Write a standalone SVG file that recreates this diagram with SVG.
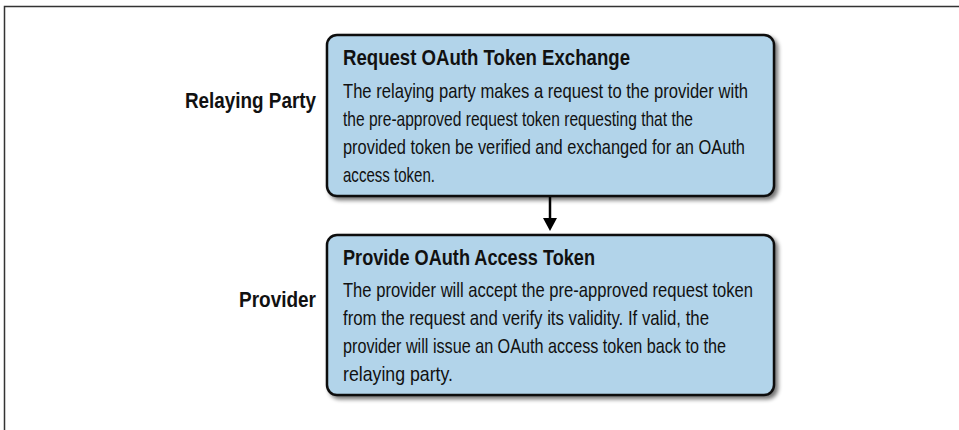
<svg xmlns="http://www.w3.org/2000/svg" width="959" height="430" viewBox="0 0 959 430">
  <defs>
    <filter id="shadow" x="-5%" y="-10%" width="115%" height="130%">
      <feGaussianBlur in="SourceAlpha" stdDeviation="2"/>
      <feOffset dx="3" dy="3" result="b"/>
      <feComponentTransfer><feFuncA type="linear" slope="0.55"/></feComponentTransfer>
      <feMerge><feMergeNode/><feMergeNode in="SourceGraphic"/></feMerge>
    </filter>
  </defs>
  <style>
    .frame { fill: none; stroke: #333; stroke-width: 1.5; }
    .box { fill: #b2d4ea; stroke: #111; stroke-width: 2.5; filter: url(#shadow); }
    .title { font-family: "Liberation Sans", Arial, sans-serif; font-weight: bold; font-size: 22px; fill: #111; }
    .body { font-family: "Liberation Sans", Arial, sans-serif; font-size: 21px; fill: #111; }
    .lane { font-family: "Liberation Sans", Arial, sans-serif; font-weight: bold; font-size: 22px; fill: #111; text-anchor: end; }
    .conn { stroke: #000; stroke-width: 2.5; fill: none; }
    .head { fill: #000; }
  </style>
  <rect width="959" height="430" fill="#fff"/>
  <path class="frame" d="M4.5,430 V6.5 H959"/>

  <g id="lane-relaying-party">
    <text class="lane" x="316" y="108" textLength="131" lengthAdjust="spacingAndGlyphs">Relaying Party</text>
  </g>
  <g id="lane-provider">
    <text class="lane" x="316" y="307" textLength="77" lengthAdjust="spacingAndGlyphs">Provider</text>
  </g>

  <g id="node-request">
    <rect class="box" x="327" y="35" width="447" height="161" rx="10" ry="10"/>
    <text class="title" x="343" y="65" textLength="287" lengthAdjust="spacingAndGlyphs">Request OAuth Token Exchange</text>
    <text class="body" x="343" y="98" textLength="405" lengthAdjust="spacingAndGlyphs">The relaying party makes a request to the provider with</text>
    <text class="body" x="343" y="126" textLength="350" lengthAdjust="spacingAndGlyphs">the pre-approved request token requesting that the</text>
    <text class="body" x="343" y="154" textLength="402" lengthAdjust="spacingAndGlyphs">provided token be verified and exchanged for an OAuth</text>
    <text class="body" x="343" y="182" textLength="92" lengthAdjust="spacingAndGlyphs">access token.</text>
  </g>

  <g id="node-provide">
    <rect class="box" x="327" y="235" width="447" height="160" rx="10" ry="10"/>
    <text class="title" x="343" y="265" textLength="252" lengthAdjust="spacingAndGlyphs">Provide OAuth Access Token</text>
    <text class="body" x="343" y="297" textLength="410" lengthAdjust="spacingAndGlyphs">The provider will accept the pre-approved request token</text>
    <text class="body" x="343" y="325" textLength="366" lengthAdjust="spacingAndGlyphs">from the request and verify its validity. If valid, the</text>
    <text class="body" x="343" y="353" textLength="383" lengthAdjust="spacingAndGlyphs">provider will issue an OAuth access token back to the</text>
    <text class="body" x="343" y="381" textLength="110" lengthAdjust="spacingAndGlyphs">relaying party.</text>
  </g>

  <g id="connectors">
    <line class="conn" x1="550" y1="197" x2="550" y2="219"/>
    <polygon class="head" points="543,218 557,218 550,231"/>
  </g>
</svg>
